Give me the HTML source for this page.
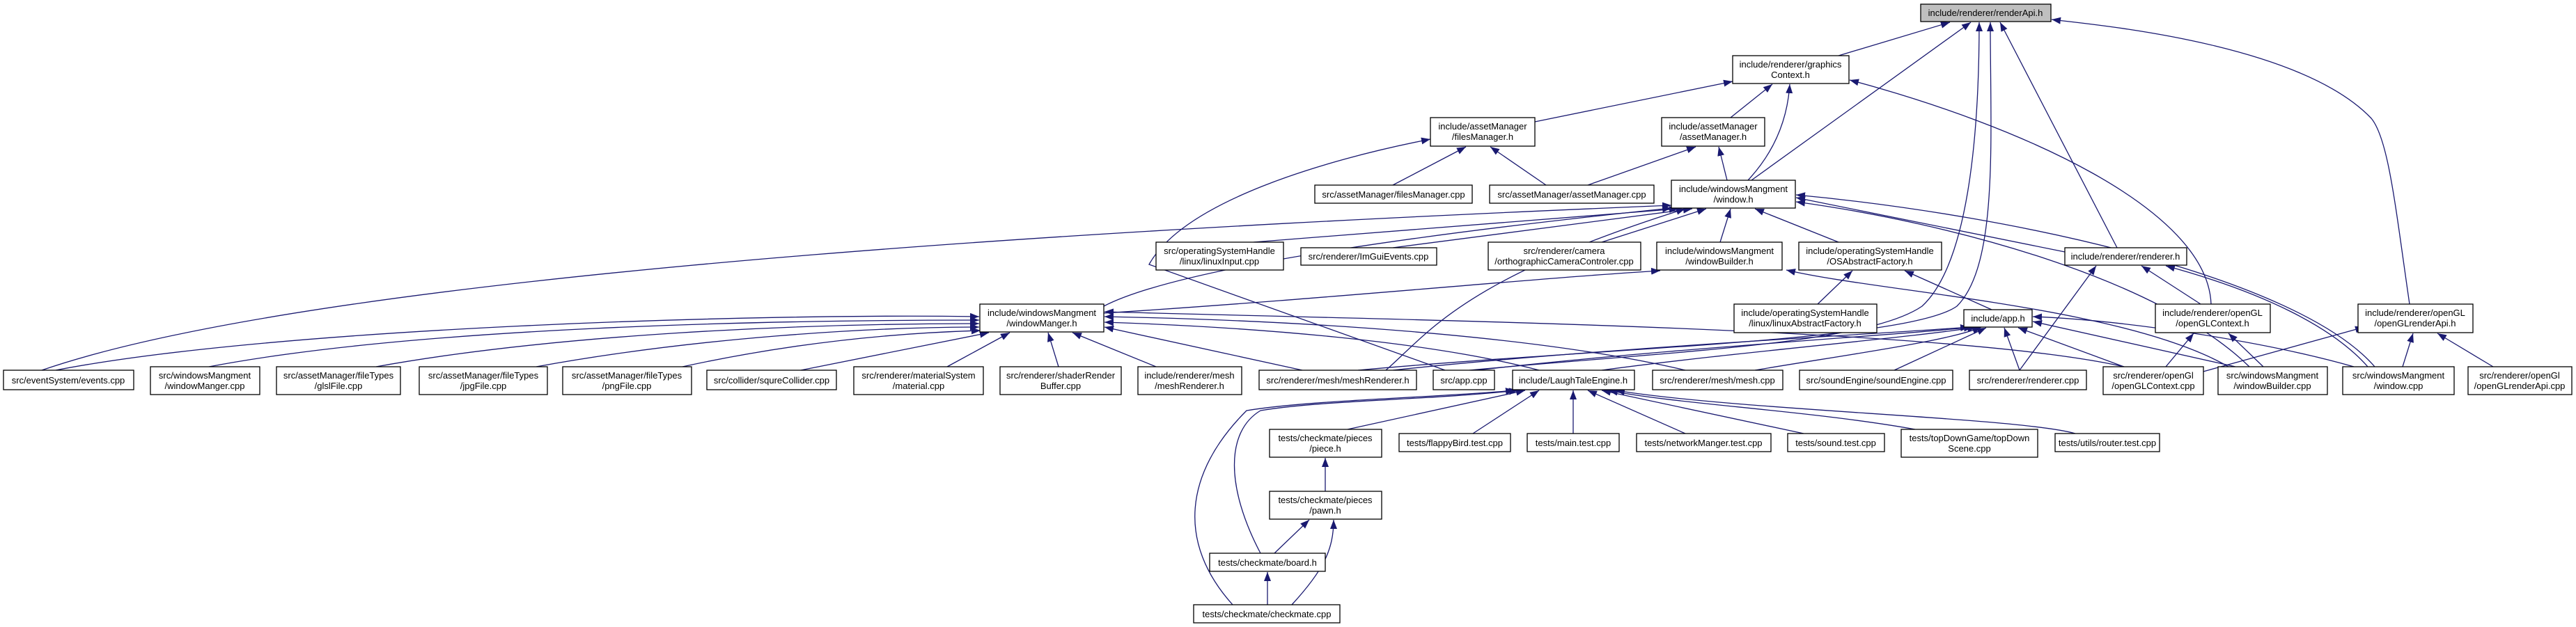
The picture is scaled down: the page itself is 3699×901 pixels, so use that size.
<!DOCTYPE html>
<html><head><meta charset="utf-8"><style>
html,body{margin:0;padding:0;background:#fff;}
svg{display:block;}
text{font-family:"Liberation Sans",Arial,sans-serif;font-size:13px;fill:#000;}
</style></head><body>
<svg width="3699" height="901" viewBox="0 0 3699 901" xmlns="http://www.w3.org/2000/svg">
<defs><marker id="a" markerUnits="userSpaceOnUse" markerWidth="13" markerHeight="10" refX="13" refY="5" orient="auto"><path d="M0,0 L13,5 L0,10 z" fill="#191970"/></marker></defs>
<g fill="none" stroke="#191970" stroke-width="1.3" marker-end="url(#a)">
<path d="M2640,80 L2800,32"/>
<path d="M2515,259 L2830,32"/>
<path d="M2110,532 C2400,505 2680,495 2760,440 C2825,380 2842,200 2842,32"/>
<path d="M1950,532 C2300,500 2740,490 2810,440 C2870,380 2858,200 2858,32"/>
<path d="M3040,356 L2872,32"/>
<path d="M3460,437 C3440,300 3430,200 3405,170 C3300,60 3000,35 2946,28"/>
<path d="M2204,175 L2488,117"/>
<path d="M2485,169 L2545,121"/>
<path d="M2510,259 Q2565,200 2570,121"/>
<path d="M3175,437 C3170,300 2900,180 2656,115"/>
<path d="M2000,266 L2105,211"/>
<path d="M2220,266 L2140,211"/>
<path d="M2280,266 L2435,211"/>
<path d="M2480,259 L2468,211"/>
<path d="M2075,532 L1650,380 C1700,290 1900,230 2054,200"/>
<path d="M60,532 C500,380 1800,320 2400,295"/>
<path d="M1800,348 L2410,300"/>
<path d="M2000,356 L2430,300"/>
<path d="M2300,348 L2450,300"/>
<path d="M2470,348 L2485,300"/>
<path d="M2640,348 L2520,300"/>
<path d="M2965,362 L2579,284"/>
<path d="M1585,440 C1700,380 2100,330 2400,299"/>
<path d="M1990,532 C2050,480 2100,400 2420,300"/>
<path d="M3230,527 C3100,400 2800,320 2579,290"/>
<path d="M3410,527 C3300,400 2900,310 2579,280"/>
<path d="M80,532 C400,470 1100,450 1406,455"/>
<path d="M300,527 C600,470 1100,460 1406,460"/>
<path d="M540,527 C800,480 1150,465 1406,465"/>
<path d="M770,527 C1000,485 1250,470 1406,470"/>
<path d="M980,527 C1150,490 1300,478 1408,475"/>
<path d="M1150,532 L1420,478"/>
<path d="M1360,527 L1450,478"/>
<path d="M1520,527 L1505,478"/>
<path d="M1660,527 L1540,478"/>
<path d="M1870,532 L1586,470"/>
<path d="M2210,532 C2050,490 1800,470 1586,463"/>
<path d="M2420,532 C2200,480 1850,460 1586,455"/>
<path d="M3050,527 C2800,470 2000,460 1586,448"/>
<path d="M1585,450 C1900,430 2200,400 2384,389"/>
<path d="M3200,527 C3050,440 2700,420 2565,388"/>
<path d="M2000,532 C2300,500 2700,480 2828,470"/>
<path d="M2120,532 C2400,500 2750,480 2833,470"/>
<path d="M2300,532 C2500,505 2750,485 2838,470"/>
<path d="M2520,532 C2650,510 2800,490 2845,470"/>
<path d="M2720,532 L2852,471"/>
<path d="M2900,532 L2878,471"/>
<path d="M3050,527 L2898,471"/>
<path d="M3210,527 L2919,462"/>
<path d="M3380,527 C3250,490 3050,460 2919,455"/>
<path d="M2860,445 L2735,389"/>
<path d="M2610,437 L2660,389"/>
<path d="M2900,532 L3010,382"/>
<path d="M3160,437 L3075,382"/>
<path d="M3400,527 C3350,470 3250,420 3110,382"/>
<path d="M3110,527 L3150,479"/>
<path d="M3250,527 L3200,479"/>
<path d="M3160,535 L3395,470"/>
<path d="M3450,527 L3465,479"/>
<path d="M3580,527 L3500,479"/>
<path d="M1935,617 L2190,561"/>
<path d="M2115,623 L2210,561"/>
<path d="M2259,623 L2259,561"/>
<path d="M2420,623 L2280,561"/>
<path d="M2590,623 L2300,561"/>
<path d="M2750,617 C2600,590 2400,580 2310,561"/>
<path d="M2980,623 C2900,600 2500,590 2320,561"/>
<path d="M1810,795 C1760,700 1760,620 1810,590 C1900,575 2050,575 2180,561"/>
<path d="M1770,869 C1690,780 1700,680 1790,590 C1880,575 2050,572 2175,561"/>
<path d="M1903,706 L1903,658"/>
<path d="M1830,795 L1880,747"/>
<path d="M1855,869 C1900,820 1915,790 1915,747"/>
<path d="M1820,869 L1820,822"/>
</g>
<g stroke="#000" stroke-width="1.3" fill="#fff">
<rect x="2758" y="6" width="187" height="25" fill="#bfbfbf"/>
<rect x="2488" y="80" width="167" height="40"/>
<rect x="2054" y="169" width="150" height="41"/>
<rect x="2386" y="169" width="148" height="41"/>
<rect x="1888" y="266" width="226" height="26"/>
<rect x="2139" y="266" width="236" height="26"/>
<rect x="2400" y="259" width="178" height="40"/>
<rect x="1660" y="348" width="183" height="40"/>
<rect x="1868" y="356" width="195" height="25"/>
<rect x="2137" y="348" width="219" height="40"/>
<rect x="2379" y="348" width="180" height="40"/>
<rect x="2583" y="348" width="205" height="40"/>
<rect x="2965" y="356" width="175" height="25"/>
<rect x="1407" y="437" width="178" height="40"/>
<rect x="2490" y="437" width="205" height="41"/>
<rect x="2820" y="445" width="98" height="25"/>
<rect x="3095" y="437" width="165" height="41"/>
<rect x="3386" y="437" width="165" height="41"/>
<rect x="5" y="532" width="187" height="28"/>
<rect x="216" y="527" width="157" height="40"/>
<rect x="397" y="527" width="178" height="40"/>
<rect x="602" y="527" width="184" height="40"/>
<rect x="808" y="527" width="185" height="40"/>
<rect x="1015" y="532" width="186" height="28"/>
<rect x="1226" y="527" width="186" height="40"/>
<rect x="1436" y="527" width="174" height="40"/>
<rect x="1634" y="527" width="149" height="40"/>
<rect x="1808" y="532" width="226" height="28"/>
<rect x="2058" y="532" width="88" height="28"/>
<rect x="2172" y="532" width="175" height="28"/>
<rect x="2373" y="532" width="187" height="28"/>
<rect x="2584" y="532" width="220" height="28"/>
<rect x="2828" y="532" width="168" height="28"/>
<rect x="3020" y="527" width="144" height="40"/>
<rect x="3185" y="527" width="157" height="40"/>
<rect x="3364" y="527" width="160" height="40"/>
<rect x="3544" y="527" width="149" height="40"/>
<rect x="1823" y="617" width="161" height="40"/>
<rect x="2009" y="623" width="160" height="26"/>
<rect x="2193" y="623" width="132" height="26"/>
<rect x="2350" y="623" width="193" height="26"/>
<rect x="2567" y="623" width="139" height="26"/>
<rect x="2730" y="617" width="196" height="40"/>
<rect x="2951" y="623" width="150" height="26"/>
<rect x="1823" y="706" width="161" height="40"/>
<rect x="1737" y="795" width="166" height="26"/>
<rect x="1714" y="869" width="210" height="26"/>
</g>
<g text-anchor="middle">
<text x="2851" y="23">include/renderer/renderApi.h</text>
<text x="2571" y="97">include/renderer/graphics</text><text x="2571" y="112">Context.h</text>
<text x="2129" y="186">include/assetManager</text><text x="2129" y="201">/filesManager.h</text>
<text x="2460" y="186">include/assetManager</text><text x="2460" y="201">/assetManager.h</text>
<text x="2001" y="284">src/assetManager/filesManager.cpp</text>
<text x="2257" y="284">src/assetManager/assetManager.cpp</text>
<text x="2489" y="276">include/windowsMangment</text><text x="2489" y="291">/window.h</text>
<text x="1751" y="365">src/operatingSystemHandle</text><text x="1751" y="380">/linux/linuxInput.cpp</text>
<text x="1965" y="373">src/renderer/ImGuiEvents.cpp</text>
<text x="2246" y="365">src/renderer/camera</text><text x="2246" y="380">/orthographicCameraControler.cpp</text>
<text x="2469" y="365">include/windowsMangment</text><text x="2469" y="380">/windowBuilder.h</text>
<text x="2685" y="365">include/operatingSystemHandle</text><text x="2685" y="380">/OSAbstractFactory.h</text>
<text x="3052" y="373">include/renderer/renderer.h</text>
<text x="1496" y="454">include/windowsMangment</text><text x="1496" y="469">/windowManger.h</text>
<text x="2592" y="454">include/operatingSystemHandle</text><text x="2592" y="469">/linux/linuxAbstractFactory.h</text>
<text x="2869" y="462">include/app.h</text>
<text x="3177" y="454">include/renderer/openGL</text><text x="3177" y="469">/openGLContext.h</text>
<text x="3468" y="454">include/renderer/openGL</text><text x="3468" y="469">/openGLrenderApi.h</text>
<text x="98" y="551">src/eventSystem/events.cpp</text>
<text x="294" y="544">src/windowsMangment</text><text x="294" y="559">/windowManger.cpp</text>
<text x="486" y="544">src/assetManager/fileTypes</text><text x="486" y="559">/glslFile.cpp</text>
<text x="694" y="544">src/assetManager/fileTypes</text><text x="694" y="559">/jpgFile.cpp</text>
<text x="900" y="544">src/assetManager/fileTypes</text><text x="900" y="559">/pngFile.cpp</text>
<text x="1108" y="551">src/collider/squreCollider.cpp</text>
<text x="1319" y="544">src/renderer/materialSystem</text><text x="1319" y="559">/material.cpp</text>
<text x="1523" y="544">src/renderer/shaderRender</text><text x="1523" y="559">Buffer.cpp</text>
<text x="1708" y="544">include/renderer/mesh</text><text x="1708" y="559">/meshRenderer.h</text>
<text x="1921" y="551">src/renderer/mesh/meshRenderer.h</text>
<text x="2102" y="551">src/app.cpp</text>
<text x="2259" y="551">include/LaughTaleEngine.h</text>
<text x="2466" y="551">src/renderer/mesh/mesh.cpp</text>
<text x="2694" y="551">src/soundEngine/soundEngine.cpp</text>
<text x="2912" y="551">src/renderer/renderer.cpp</text>
<text x="3092" y="544">src/renderer/openGl</text><text x="3092" y="559">/openGLContext.cpp</text>
<text x="3263" y="544">src/windowsMangment</text><text x="3263" y="559">/windowBuilder.cpp</text>
<text x="3444" y="544">src/windowsMangment</text><text x="3444" y="559">/window.cpp</text>
<text x="3618" y="544">src/renderer/openGl</text><text x="3618" y="559">/openGLrenderApi.cpp</text>
<text x="1903" y="634">tests/checkmate/pieces</text><text x="1903" y="649">/piece.h</text>
<text x="2089" y="641">tests/flappyBird.test.cpp</text>
<text x="2259" y="641">tests/main.test.cpp</text>
<text x="2446" y="641">tests/networkManger.test.cpp</text>
<text x="2636" y="641">tests/sound.test.cpp</text>
<text x="2828" y="634">tests/topDownGame/topDown</text><text x="2828" y="649">Scene.cpp</text>
<text x="3026" y="641">tests/utils/router.test.cpp</text>
<text x="1903" y="723">tests/checkmate/pieces</text><text x="1903" y="738">/pawn.h</text>
<text x="1820" y="813">tests/checkmate/board.h</text>
<text x="1819" y="887">tests/checkmate/checkmate.cpp</text>
</g>
</svg>
</body></html>
